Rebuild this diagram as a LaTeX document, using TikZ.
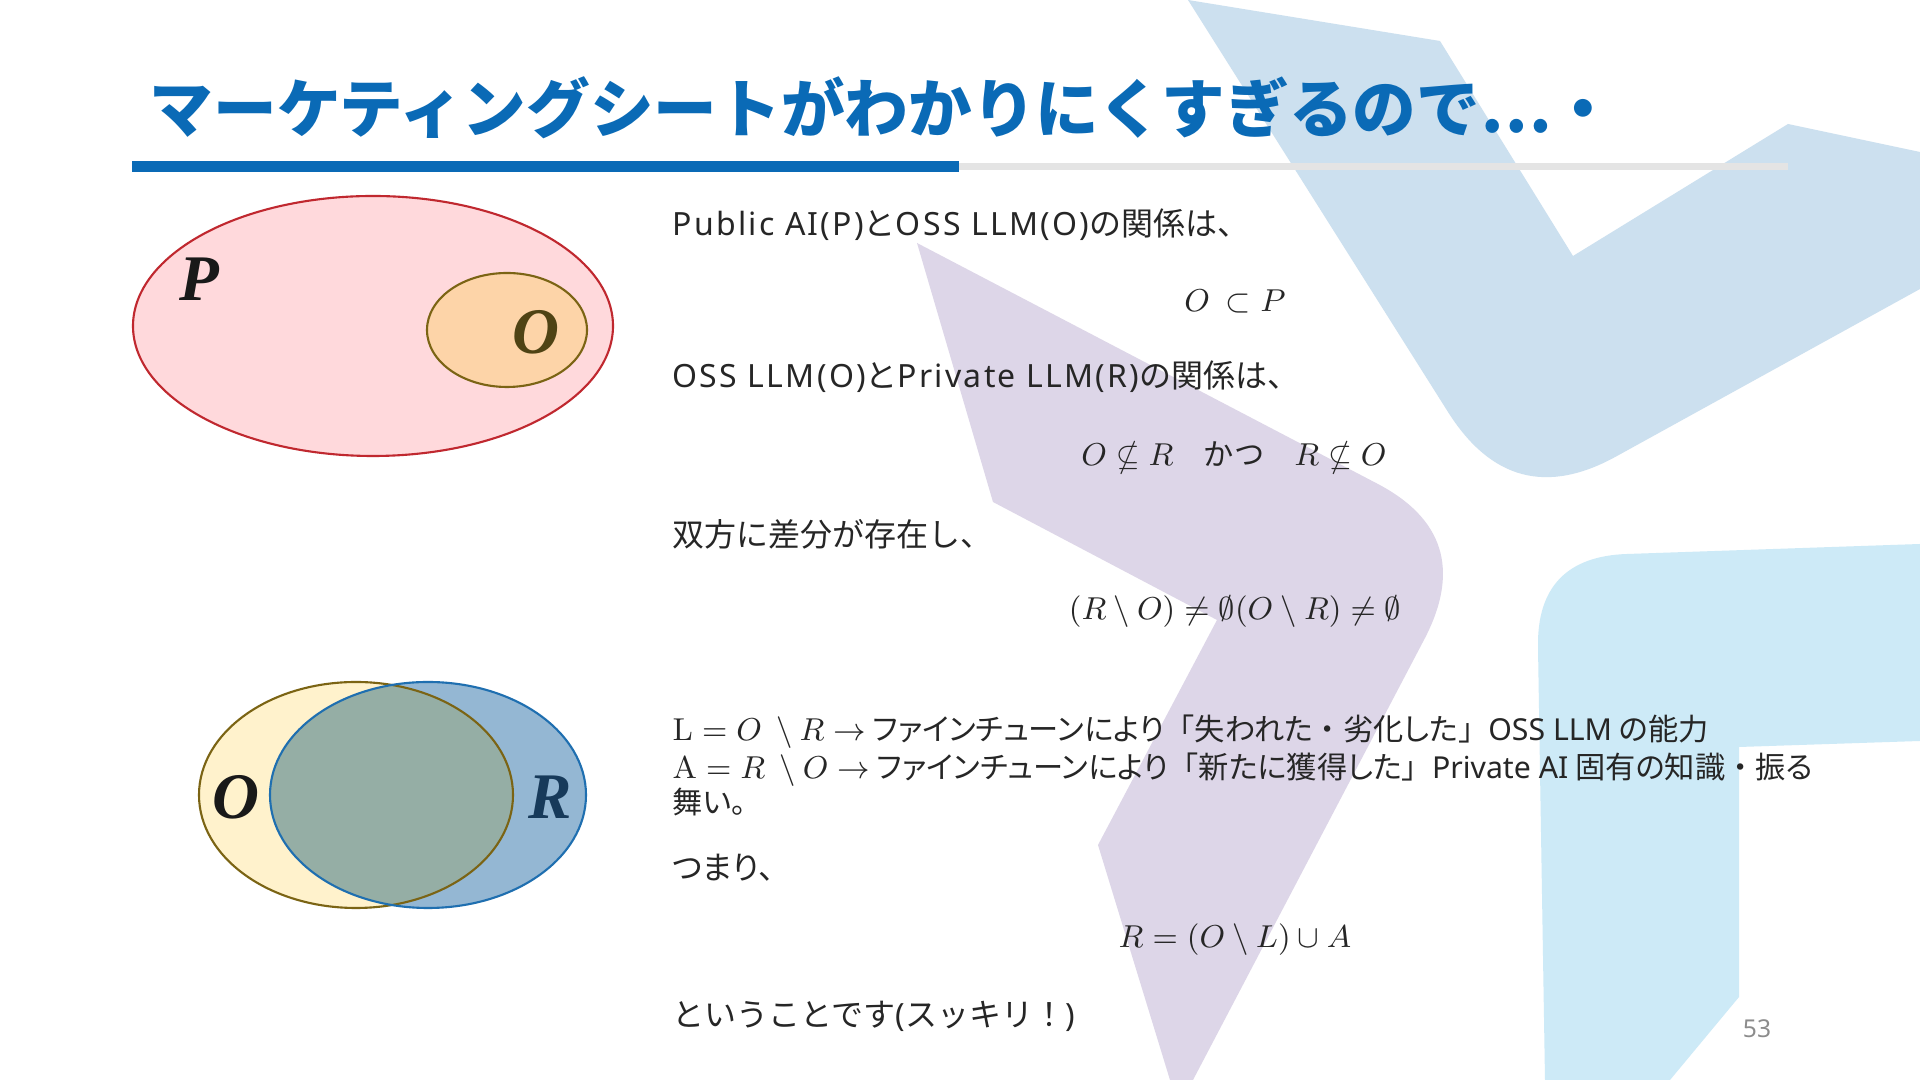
\documentclass[tikz,border=0pt]{standalone}
\usepackage[no-math]{fontspec}
\usepackage{amssymb}
\usepackage{tikz}
\setmainfont{Noto Sans CJK JP}
\newfontfamily\latfont{Noto Sans}
\newfontfamily\widelatfont{Noto Sans}[LetterSpace=7]
\newfontfamily\setfont{Liberation Serif}
\newcommand{\lat}[1]{{\latfont #1}}
\newcommand{\widelat}[1]{{\widelatfont #1}}
\newcommand{\kana}[1]{{\addfontfeatures{RawFeature=+palt}#1}}
\newcommand{\inmath}[1]{{\fontsize{8.6pt}{10pt}\selectfont #1}}
\definecolor{titleblue}{HTML}{0A6AB6}
\definecolor{bargray}{HTML}{E4E4E4}
\definecolor{checkblue}{HTML}{CCE0EF}
\definecolor{lilac}{HTML}{DDD6E8}
\definecolor{skyblue}{HTML}{CDEAF7}
\definecolor{pfill}{HTML}{FFD9DC}
\definecolor{pline}{HTML}{C0282F}
\definecolor{ofill}{HTML}{FDD4A8}
\definecolor{oline}{HTML}{7B6414}
\definecolor{ylfill}{HTML}{FFF2CC}
\definecolor{rfill}{HTML}{94B7D3}
\definecolor{mixfill}{HTML}{95AEA5}
\definecolor{rline}{HTML}{1F6FB0}
\definecolor{olabel}{HTML}{4F4314}
\definecolor{rlabel}{HTML}{173A5A}
\definecolor{bodytext}{HTML}{262626}
\tikzset{
  body/.style={anchor=base west, inner sep=0pt, text=bodytext, font=\fontsize{9.1pt}{11pt}\selectfont},
  smallbody/.style={body, font=\fontsize{8.6pt}{10.5pt}\selectfont},
  formula/.style={anchor=center, inner sep=0pt, text=bodytext, font=\fontsize{8.6pt}{10.5pt}\selectfont},
  setlabel/.style={anchor=center, inner sep=0pt, font=\setfont\bfseries\itshape\fontsize{18.5pt}{18.5pt}\selectfont},
  setline/.style={line width=0.6pt},
}

\begin{document}
\begin{tikzpicture}[x=0.01cm, y=-0.01cm]
    \useasboundingbox (0,0) rectangle (1920,1080);
    \fill[white] (0,0) rectangle (1920,1080);
    \clip (0,0) rectangle (1920,1080);

    % background shapes
    \fill[checkblue] (1188,0) -- (1440,41) -- (1573,256) -- (1788,124) -- (1920,152) -- (1920,289) -- (1617,456) .. controls (1547,495) and (1491,480) .. (1448,412) -- cycle;
    \fill[lilac] (917,243) -- (1376,483) .. controls (1444,518) and (1460,570) .. (1425,638) -- (1193,1080) -- (1170,1080) -- (1098,845) -- (1217,620) -- (993,502) -- cycle;
    \fill[skyblue] (1920,544) -- (1627,554) .. controls (1567,556) and (1537,587) .. (1538,647) -- (1545,1080) -- (1670,1080) -- (1739,997) -- (1739,747) -- (1920,741) -- cycle;

    % title
    \node[anchor=west, inner sep=0pt, text=titleblue, font=\bfseries\fontsize{18.1pt}{20pt}\selectfont] (title) at (149,108) {マーケティングシートがわかりにくすぎるので…・};
    \fill[titleblue] (132,161) rectangle (959,172);
    \fill[bargray] (959,163) rectangle (1788,170);

    % P contains O
    \filldraw[setline, fill=pfill, draw=pline] (373,326) ellipse [x radius=240, y radius=130];
    \filldraw[setline, fill=ofill, draw=oline] (507,330) ellipse [x radius=80, y radius=57];
    \node[setlabel, text=black!90] (plabel) at (199,279) {P};
    \node[setlabel, text=olabel] (olabel) at (536,332) {O};

    % O and R overlap
    \fill[ylfill] (356,795) ellipse [x radius=157, y radius=113];
    \fill[rfill] (428,795) ellipse [x radius=158, y radius=113];
    \begin{scope}
        \clip (356,795) ellipse [x radius=157, y radius=113];
        \fill[mixfill] (428,795) ellipse [x radius=158, y radius=113];
    \end{scope}
    \draw[setline, oline] (356,795) ellipse [x radius=157, y radius=113];
    \draw[setline, rline] (428,795) ellipse [x radius=158, y radius=113];
    \node[setlabel, text=black!90] (olabeltwo) at (236,797) {O};
    \node[setlabel, text=rlabel] (rlabel) at (550,797) {R};

    % text
    \node[body] (pubrel) at (672,236) {\widelat{Public AI(P)}と\widelat{OSS LLM(O)}の関係は、};
    \node[formula] (subset) at (1235,302) {$O\ \subset P$};
    \node[body] (ossrel) at (672,388) {\widelat{OSS LLM(O)}と\widelat{Private LLM(R)}の関係は、};
    \node[formula] (notsub) at (1234,458) {$O \nsubseteq R$\quad かつ\quad $R \nsubseteq O$};
    \node[body] (diffline) at (672,547) {双方に差分が存在し、};
    \node[formula] (diffmath) at (1235,612) {$(R \setminus O) \neq \emptyset(O \setminus R) \neq \emptyset$};
    \node[smallbody] (lossline) at (672,741) {\inmath{$\mathrm{L} = O\ \setminus R \rightarrow$} \kana{ファインチューンにより}「\kana{失われた}・\kana{劣化した}」\lat{OSS LLM} \kana{の能力}};
    \node[smallbody] (gainline) at (672,779) {\inmath{$\mathrm{A} = R\ \setminus O \rightarrow$} \kana{ファインチューンにより}「\kana{新たに獲得した}」\lat{Private AI} \kana{固有の知識}・\kana{振る}};
    \node[smallbody] (gainwrap) at (672,814) {\kana{舞い}。};
    \node[body] (tsumari) at (672,880) {\kana{つまり}、};
    \node[formula] (rformula) at (1235,940) {$R = (O \setminus L) \cup A$};
    \node[body] (closing) at (672,1027) {ということです\lat{(}スッキリ！\lat{)}};
    \node[anchor=center, inner sep=0pt, text=black!45, font=\latfont\fontsize{7pt}{8pt}\selectfont] (pageno) at (1757,1029) {53};
\end{tikzpicture}
\end{document}
